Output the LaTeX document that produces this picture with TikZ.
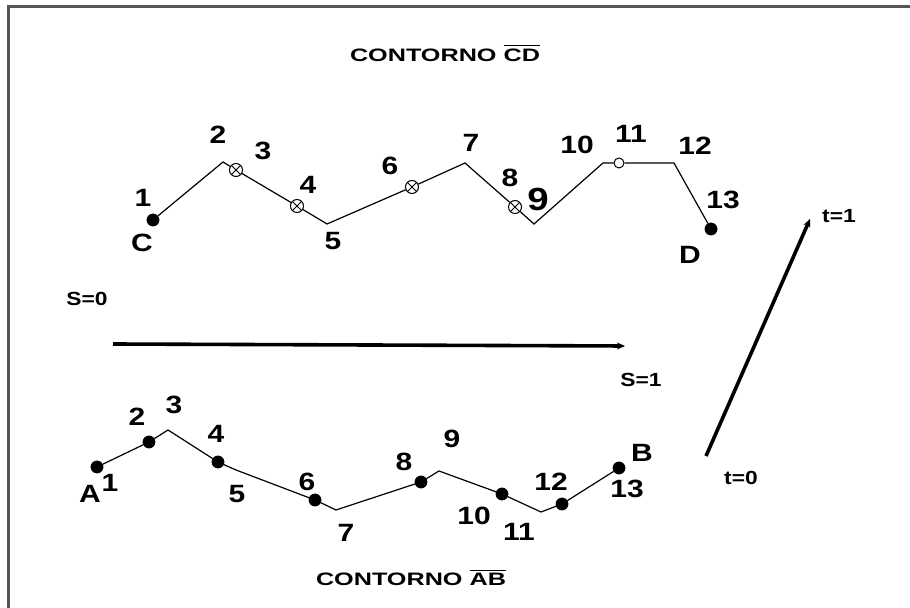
\documentclass[tikz,border=0pt]{standalone}
\usepackage{fontspec}
\setmainfont{Liberation Sans}
\newfontfamily\lblfont[FakeStretch=1.2]{Liberation Sans}
\newfontfamily\ttlfont[FakeStretch=1.4]{Liberation Sans}
\usepackage{tikz}
\usetikzlibrary{arrows.meta}
\definecolor{framegray}{RGB}{85,85,85}

\begin{document}
\begin{tikzpicture}[x=0.5pt, y=-0.5pt,
    dotpt/.style={circle, fill=black, draw=black, inner sep=0pt, minimum size=6pt},
    crosspt/.style={circle, draw=black, fill=white, line width=0.5pt, inner sep=0pt, minimum size=6.5pt,
        path picture={\draw[line width=0.5pt] (path picture bounding box.south west) -- (path picture bounding box.north east)
            (path picture bounding box.north west) -- (path picture bounding box.south east);}},
    openpt/.style={circle, draw=black, fill=white, line width=0.5pt, inner sep=0pt, minimum size=5pt},
    numlbl/.style={font=\lblfont\bfseries\fontsize{12.5}{14}\selectfont, inner sep=0pt},
    biglbl/.style={font=\lblfont\bfseries\fontsize{16}{18}\selectfont, inner sep=0pt},
    smalllbl/.style={font=\lblfont\bfseries\fontsize{9.5}{11}\selectfont, inner sep=0pt},
    titlelbl/.style={font=\ttlfont\bfseries\fontsize{9}{11}\selectfont, inner sep=0pt},
    contour/.style={line width=0.6pt, black},
    arrbig/.style={-{Stealth[length=4pt, width=3.5pt]}, line width=1.8pt, black}
]
    \useasboundingbox (0,0) rectangle (910,608);
    \draw[framegray, line width=1.5pt] (8,608) -- (8,7) -- (910,7);

    % contour CD (top)
    \node[titlelbl] (tcd) at (445,53) {CONTORNO $\overline{\hbox{CD}}$};
    \node[dotpt] (c1) at (153,220) {};
    \coordinate (c2) at (223,162);
    \node[crosspt] (c3) at (236,170) {};
    \node[crosspt] (c4) at (297,206) {};
    \coordinate (c5) at (327,224);
    \node[crosspt] (c6) at (412,187) {};
    \coordinate (c7) at (465,163);
    \node[crosspt] (c8) at (515,207) {};
    \coordinate (c9) at (534,224);
    \coordinate (c10) at (603,163);
    \node[openpt] (c11) at (619,163) {};
    \coordinate (c12) at (674,163);
    \node[dotpt] (c13) at (711,229) {};
    \draw[contour] (c1) -- (c2) -- (c3) -- (c4) -- (c5) -- (c6) -- (c7) -- (c8) -- (c9) -- (c10) -- (c11) -- (c12) -- (c13);

    \node[numlbl] (c1lbl) at (143,198) {1};
    \node[numlbl] (clbl) at (142,243) {C};
    \node[numlbl] (c2lbl) at (218,135) {2};
    \node[numlbl] (c3lbl) at (263,151) {3};
    \node[numlbl] (c4lbl) at (308,185) {4};
    \node[numlbl] (c5lbl) at (333,241) {5};
    \node[numlbl] (c6lbl) at (390,166) {6};
    \node[numlbl] (c7lbl) at (471,143) {7};
    \node[numlbl] (c8lbl) at (510,178) {8};
    \node[biglbl] (c9lbl) at (538,199) {9};
    \node[numlbl] (c10lbl) at (577,145) {10};
    \node[numlbl] (c11lbl) at (631,134) {11};
    \node[numlbl] (c12lbl) at (695,146) {12};
    \node[numlbl] (c13lbl) at (723,200) {13};
    \node[numlbl] (dlbl) at (690,255) {D};

    % parameter s
    \node[smalllbl] (s0) at (87,299) {S=0};
    \node[smalllbl] (s1) at (641,380) {S=1};
    \coordinate (sa) at (113,344);
    \coordinate (sb) at (625,346);
    \draw[arrbig] (sa) -- (sb);

    % parameter t
    \node[smalllbl] (t0) at (741,478) {t=0};
    \node[smalllbl] (t1) at (839,216) {t=1};
    \coordinate (ta) at (706,456);
    \coordinate (tb) at (810,219);
    \draw[arrbig] (ta) -- (tb);

    % contour AB (bottom)
    \node[dotpt] (a1) at (97,467) {};
    \node[dotpt] (a2) at (149,442) {};
    \coordinate (a3) at (168,430);
    \node[dotpt] (a4) at (218,462) {};
    \coordinate (a5) at (236,470);
    \node[dotpt] (a6) at (315,500) {};
    \coordinate (a7) at (336,510);
    \node[dotpt] (a8) at (421,482) {};
    \coordinate (a9) at (439,471);
    \node[dotpt] (a10) at (502,494) {};
    \coordinate (a11) at (541,512);
    \node[dotpt] (a12) at (562,504) {};
    \node[dotpt] (a13) at (619,468) {};
    \draw[contour] (a1) -- (a2) -- (a3) -- (a4) -- (a5) -- (a6) -- (a7) -- (a8) -- (a9) -- (a10) -- (a11) -- (a12) -- (a13);

    \node[numlbl] (albl) at (90,494) {A};
    \node[numlbl] (a1lbl) at (110,483) {1};
    \node[numlbl] (a2lbl) at (137,417) {2};
    \node[numlbl] (a3lbl) at (174,405) {3};
    \node[numlbl] (a4lbl) at (216,434) {4};
    \node[numlbl] (a5lbl) at (237,494) {5};
    \node[numlbl] (a6lbl) at (307,482) {6};
    \node[numlbl] (a7lbl) at (346,533) {7};
    \node[numlbl] (a8lbl) at (404,462) {8};
    \node[numlbl] (a9lbl) at (452,439) {9};
    \node[numlbl] (a10lbl) at (474,516) {10};
    \node[numlbl] (a11lbl) at (519,532) {11};
    \node[numlbl] (a12lbl) at (551,482) {12};
    \node[numlbl] (a13lbl) at (627,489) {13};
    \node[numlbl] (blbl) at (642,453) {B};

    \node[titlelbl] (tab) at (411,577) {CONTORNO $\overline{\hbox{AB}}$};
\end{tikzpicture}
\end{document}
